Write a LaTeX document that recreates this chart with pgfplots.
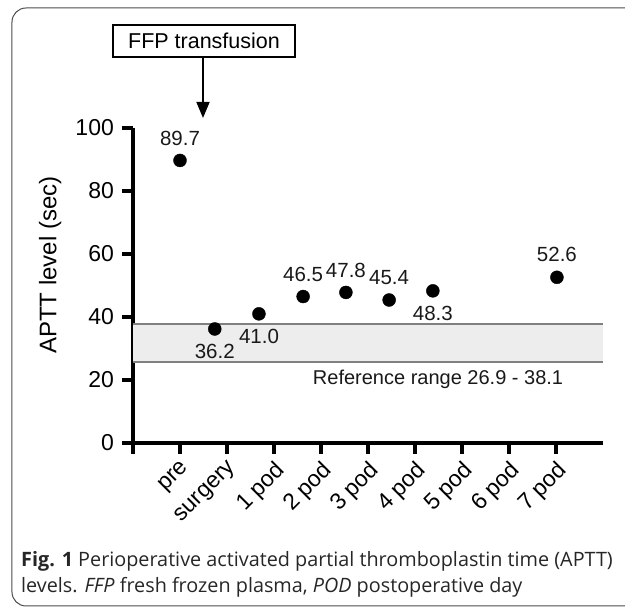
\documentclass[border=0pt]{standalone}
\usepackage{pgfplots}
\pgfplotsset{compat=1.18}
\usepackage{fontspec}
\setmainfont{Liberation Sans}
\newfontfamily\capfont{Open Sans}
\usetikzlibrary{arrows.meta}

\begin{document}
\begin{tikzpicture}[x=1pt,y=1pt]
\path[use as bounding box] (-133,-164) rectangle (492,443);
% outer frame of the figure
\draw[black!70, line width=1pt, rounded corners=14pt] (-121,435) rectangle (530,-163);

\begin{axis}[
  at={(0,0)}, anchor=south west,
  scale only axis, width=470pt, height=315pt,
  xmin=0, xmax=10, ymin=0, ymax=100,
  line width=3.6pt,
  axis x line=bottom, axis y line=left,
  axis line style={-, line width=3.6pt},
  every outer x axis line/.append style={-, line width=3.6pt},
  every outer y axis line/.append style={-, line width=3.6pt},
  xtick={0,...,9},
  xticklabels={,pre,surgery,1 pod,2 pod,3 pod,4 pod,5 pod,6 pod,7 pod},
  ytick={0,20,...,100},
  tick align=outside, major tick length=11pt,
  tick style={black, line width=3.2pt},
  major tick style={black, line width=3.2pt},
  tick label style={font=\fontsize{23}{26}\selectfont},
  xticklabel style={rotate=45, anchor=north east, inner sep=2pt},
  yticklabel style={xshift=-3pt},
  ylabel={APTT level (sec)},
  every axis y label/.style={at={(axis description cs:-0.176,0.565)}, rotate=90, anchor=center,
    font=\fontsize{24}{28}\selectfont},
  /pgf/number format/assume math mode=true,
  clip=false,
]

% reference range band
\addplot[fill=black!7, draw=none] coordinates {(0,25.7) (10,25.7) (10,37.8) (0,37.8)} -- cycle;
\addplot[black!50, line width=1.3pt] coordinates {(0,37.8) (10,37.8)};
\addplot[black!50, line width=1.3pt] coordinates {(0,25.7) (10,25.7)};

% values with labels above
\addplot[only marks, mark=*, mark size=6.5pt, black, line width=0.4pt,
  nodes near coords, point meta=explicit symbolic,
  every node near coord/.append style={anchor=south, inner sep=0pt, yshift=15pt,
    font=\fontsize{20.5}{24}\selectfont, text=black!90}]
  coordinates {
    (1.00,89.7) [89.7]
    (3.62,46.5) [46.5]
    (4.53,47.8) [47.8]
    (5.45,45.4) [45.4]
    (9.02,52.6) [52.6]
  };

% values with labels below
\addplot[only marks, mark=*, mark size=6.5pt, black, line width=0.4pt,
  nodes near coords, point meta=explicit symbolic,
  every node near coord/.append style={anchor=north, inner sep=0pt, yshift=-15pt,
    font=\fontsize{20.5}{24}\selectfont, text=black!90}]
  coordinates {
    (1.74,36.2) [36.2]
    (2.68,41.0) [41.0]
    (6.38,48.3) [48.3]
  };

\node[anchor=base east, inner sep=0pt, font=\fontsize{20}{24}\selectfont, text=black!90]
  at (axis cs:9.19,18.7) {Reference range 26.9 - 38.1};
\end{axis}

% annotation box and arrow
\node[draw, line width=1.2pt, minimum width=182pt, minimum height=32pt, inner sep=0pt,
  font=\fontsize{21.5}{24}\selectfont] at (71,402) {FFP transfusion};
\draw[-{Triangle[length=16pt,width=13pt]}, line width=1.6pt] (70,386) -- (70,325);

% caption
\node[anchor=base west, inner sep=0pt, font=\capfont\fontsize{19.8}{24}\selectfont, text=black!85]
  at (-112,-124) {\textbf{Fig. 1} Perioperative activated partial thromboplastin time (APTT)};
\node[anchor=base west, inner sep=0pt, font=\capfont\fontsize{19.8}{24}\selectfont, text=black!85]
  at (-112,-150) {levels. \textit{FFP} fresh frozen plasma, \textit{POD} postoperative day};
\end{tikzpicture}
\end{document}
